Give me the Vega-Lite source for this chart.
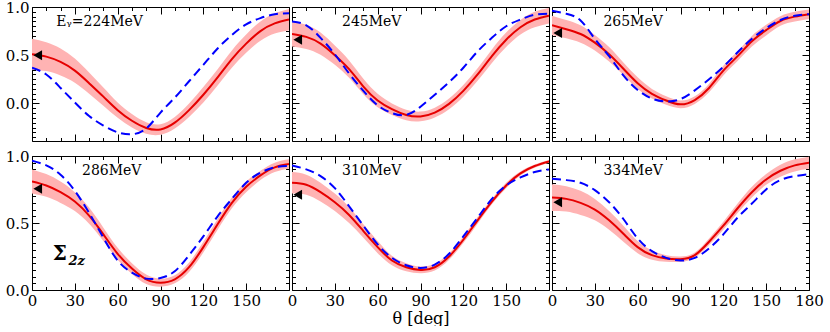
{
"$schema":"https://vega.github.io/schema/vega-lite/v6.json",
"padding":{"left":5,"top":0,"right":5,"bottom":0},
"background":"white",
"datasets":{
"curves":[
{"p":"224","t":0,"r":0.51,"lo":0.35,"hi":0.67,"b":0.37},
{"p":"224","t":10,"r":0.485,"lo":0.335,"hi":0.635,"b":0.30},
{"p":"224","t":20,"r":0.43,"lo":0.29,"hi":0.57,"b":0.16},
{"p":"224","t":30,"r":0.34,"lo":0.215,"hi":0.465,"b":0.01},
{"p":"224","t":40,"r":0.21,"lo":0.10,"hi":0.32,"b":-0.13},
{"p":"224","t":50,"r":0.07,"lo":-0.025,"hi":0.165,"b":-0.23},
{"p":"224","t":60,"r":-0.07,"lo":-0.15,"hi":0.01,"b":-0.30},
{"p":"224","t":70,"r":-0.18,"lo":-0.25,"hi":-0.11,"b":-0.32},
{"p":"224","t":80,"r":-0.255,"lo":-0.315,"hi":-0.195,"b":-0.26},
{"p":"224","t":90,"r":-0.27,"lo":-0.325,"hi":-0.215,"b":-0.095},
{"p":"224","t":100,"r":-0.20,"lo":-0.26,"hi":-0.14,"b":0.06},
{"p":"224","t":110,"r":-0.07,"lo":-0.14,"hi":0.0,"b":0.23},
{"p":"224","t":120,"r":0.09,"lo":0.01,"hi":0.17,"b":0.40},
{"p":"224","t":130,"r":0.27,"lo":0.185,"hi":0.355,"b":0.57},
{"p":"224","t":140,"r":0.46,"lo":0.37,"hi":0.55,"b":0.71},
{"p":"224","t":150,"r":0.62,"lo":0.525,"hi":0.715,"b":0.82},
{"p":"224","t":160,"r":0.75,"lo":0.65,"hi":0.85,"b":0.885},
{"p":"224","t":170,"r":0.83,"lo":0.725,"hi":0.935,"b":0.925},
{"p":"224","t":180,"r":0.87,"lo":0.76,"hi":0.98,"b":0.935},
{"p":"245","t":0,"r":0.72,"lo":0.59,"hi":0.85,"b":0.85},
{"p":"245","t":10,"r":0.69,"lo":0.565,"hi":0.815,"b":0.81},
{"p":"245","t":20,"r":0.62,"lo":0.505,"hi":0.735,"b":0.68},
{"p":"245","t":30,"r":0.50,"lo":0.40,"hi":0.60,"b":0.51},
{"p":"245","t":40,"r":0.355,"lo":0.265,"hi":0.445,"b":0.31},
{"p":"245","t":50,"r":0.175,"lo":0.095,"hi":0.255,"b":0.13},
{"p":"245","t":60,"r":0.03,"lo":-0.04,"hi":0.10,"b":-0.02},
{"p":"245","t":70,"r":-0.06,"lo":-0.12,"hi":0.0,"b":-0.10},
{"p":"245","t":80,"r":-0.12,"lo":-0.175,"hi":-0.065,"b":-0.12},
{"p":"245","t":90,"r":-0.135,"lo":-0.185,"hi":-0.085,"b":-0.035},
{"p":"245","t":100,"r":-0.095,"lo":-0.145,"hi":-0.045,"b":0.09},
{"p":"245","t":110,"r":-0.005,"lo":-0.06,"hi":0.05,"b":0.22},
{"p":"245","t":120,"r":0.13,"lo":0.07,"hi":0.19,"b":0.37},
{"p":"245","t":130,"r":0.30,"lo":0.235,"hi":0.365,"b":0.54},
{"p":"245","t":140,"r":0.49,"lo":0.42,"hi":0.56,"b":0.68},
{"p":"245","t":150,"r":0.66,"lo":0.585,"hi":0.735,"b":0.80},
{"p":"245","t":160,"r":0.79,"lo":0.715,"hi":0.865,"b":0.87},
{"p":"245","t":170,"r":0.87,"lo":0.79,"hi":0.95,"b":0.92},
{"p":"245","t":180,"r":0.91,"lo":0.83,"hi":0.99,"b":0.93},
{"p":"265","t":0,"r":0.81,"lo":0.71,"hi":0.91,"b":0.96},
{"p":"265","t":10,"r":0.77,"lo":0.675,"hi":0.865,"b":0.93},
{"p":"265","t":20,"r":0.72,"lo":0.63,"hi":0.81,"b":0.86},
{"p":"265","t":30,"r":0.63,"lo":0.55,"hi":0.71,"b":0.67},
{"p":"265","t":40,"r":0.51,"lo":0.435,"hi":0.585,"b":0.49},
{"p":"265","t":50,"r":0.36,"lo":0.295,"hi":0.425,"b":0.29},
{"p":"265","t":60,"r":0.21,"lo":0.15,"hi":0.27,"b":0.14},
{"p":"265","t":70,"r":0.10,"lo":0.05,"hi":0.15,"b":0.05},
{"p":"265","t":80,"r":0.03,"lo":-0.015,"hi":0.075,"b":0.02},
{"p":"265","t":90,"r":-0.01,"lo":-0.05,"hi":0.03,"b":0.045},
{"p":"265","t":100,"r":0.035,"lo":-0.005,"hi":0.075,"b":0.135},
{"p":"265","t":110,"r":0.16,"lo":0.115,"hi":0.205,"b":0.25},
{"p":"265","t":120,"r":0.34,"lo":0.29,"hi":0.39,"b":0.38},
{"p":"265","t":130,"r":0.49,"lo":0.44,"hi":0.54,"b":0.53},
{"p":"265","t":140,"r":0.645,"lo":0.59,"hi":0.70,"b":0.67},
{"p":"265","t":150,"r":0.76,"lo":0.705,"hi":0.815,"b":0.78},
{"p":"265","t":160,"r":0.855,"lo":0.805,"hi":0.905,"b":0.865},
{"p":"265","t":170,"r":0.90,"lo":0.85,"hi":0.95,"b":0.91},
{"p":"265","t":180,"r":0.925,"lo":0.875,"hi":0.975,"b":0.925},
{"p":"286","t":0,"r":0.81,"lo":0.72,"hi":0.90,"b":0.965},
{"p":"286","t":10,"r":0.78,"lo":0.695,"hi":0.865,"b":0.93},
{"p":"286","t":20,"r":0.73,"lo":0.65,"hi":0.81,"b":0.86},
{"p":"286","t":30,"r":0.66,"lo":0.59,"hi":0.73,"b":0.74},
{"p":"286","t":40,"r":0.555,"lo":0.495,"hi":0.615,"b":0.575},
{"p":"286","t":50,"r":0.415,"lo":0.365,"hi":0.465,"b":0.39},
{"p":"286","t":60,"r":0.27,"lo":0.225,"hi":0.315,"b":0.22},
{"p":"286","t":70,"r":0.16,"lo":0.12,"hi":0.20,"b":0.13},
{"p":"286","t":80,"r":0.08,"lo":0.045,"hi":0.115,"b":0.085},
{"p":"286","t":90,"r":0.055,"lo":0.025,"hi":0.085,"b":0.09},
{"p":"286","t":100,"r":0.08,"lo":0.05,"hi":0.11,"b":0.14},
{"p":"286","t":110,"r":0.17,"lo":0.135,"hi":0.205,"b":0.26},
{"p":"286","t":120,"r":0.32,"lo":0.28,"hi":0.36,"b":0.40},
{"p":"286","t":130,"r":0.49,"lo":0.45,"hi":0.53,"b":0.55},
{"p":"286","t":140,"r":0.65,"lo":0.61,"hi":0.69,"b":0.68},
{"p":"286","t":150,"r":0.77,"lo":0.73,"hi":0.81,"b":0.80},
{"p":"286","t":160,"r":0.855,"lo":0.82,"hi":0.89,"b":0.875},
{"p":"286","t":170,"r":0.915,"lo":0.88,"hi":0.95,"b":0.915},
{"p":"286","t":180,"r":0.94,"lo":0.905,"hi":0.975,"b":0.925},
{"p":"310","t":0,"r":0.80,"lo":0.72,"hi":0.88,"b":0.93},
{"p":"310","t":10,"r":0.785,"lo":0.71,"hi":0.86,"b":0.90},
{"p":"310","t":20,"r":0.73,"lo":0.66,"hi":0.80,"b":0.85},
{"p":"310","t":30,"r":0.655,"lo":0.59,"hi":0.72,"b":0.76},
{"p":"310","t":40,"r":0.56,"lo":0.50,"hi":0.62,"b":0.625},
{"p":"310","t":50,"r":0.44,"lo":0.39,"hi":0.49,"b":0.48},
{"p":"310","t":60,"r":0.32,"lo":0.275,"hi":0.365,"b":0.34},
{"p":"310","t":70,"r":0.22,"lo":0.185,"hi":0.255,"b":0.24},
{"p":"310","t":80,"r":0.17,"lo":0.14,"hi":0.20,"b":0.185},
{"p":"310","t":90,"r":0.15,"lo":0.125,"hi":0.175,"b":0.165},
{"p":"310","t":100,"r":0.17,"lo":0.145,"hi":0.195,"b":0.19},
{"p":"310","t":110,"r":0.25,"lo":0.225,"hi":0.275,"b":0.27},
{"p":"310","t":120,"r":0.375,"lo":0.35,"hi":0.40,"b":0.40},
{"p":"310","t":130,"r":0.52,"lo":0.495,"hi":0.545,"b":0.54},
{"p":"310","t":140,"r":0.66,"lo":0.64,"hi":0.68,"b":0.68},
{"p":"310","t":150,"r":0.78,"lo":0.76,"hi":0.80,"b":0.78},
{"p":"310","t":160,"r":0.87,"lo":0.855,"hi":0.885,"b":0.84},
{"p":"310","t":170,"r":0.925,"lo":0.913,"hi":0.937,"b":0.88},
{"p":"310","t":180,"r":0.96,"lo":0.95,"hi":0.97,"b":0.90},
{"p":"334","t":0,"r":0.69,"lo":0.59,"hi":0.79,"b":0.83},
{"p":"334","t":10,"r":0.68,"lo":0.585,"hi":0.775,"b":0.82},
{"p":"334","t":20,"r":0.65,"lo":0.56,"hi":0.74,"b":0.80},
{"p":"334","t":30,"r":0.60,"lo":0.52,"hi":0.68,"b":0.745},
{"p":"334","t":40,"r":0.52,"lo":0.45,"hi":0.59,"b":0.655},
{"p":"334","t":50,"r":0.42,"lo":0.36,"hi":0.48,"b":0.53},
{"p":"334","t":60,"r":0.32,"lo":0.275,"hi":0.365,"b":0.385},
{"p":"334","t":70,"r":0.26,"lo":0.225,"hi":0.295,"b":0.29},
{"p":"334","t":80,"r":0.235,"lo":0.21,"hi":0.26,"b":0.24},
{"p":"334","t":90,"r":0.23,"lo":0.21,"hi":0.25,"b":0.22},
{"p":"334","t":100,"r":0.26,"lo":0.24,"hi":0.28,"b":0.24},
{"p":"334","t":110,"r":0.36,"lo":0.335,"hi":0.385,"b":0.31},
{"p":"334","t":120,"r":0.48,"lo":0.45,"hi":0.51,"b":0.415},
{"p":"334","t":130,"r":0.61,"lo":0.575,"hi":0.645,"b":0.54},
{"p":"334","t":140,"r":0.73,"lo":0.69,"hi":0.77,"b":0.645},
{"p":"334","t":150,"r":0.825,"lo":0.785,"hi":0.865,"b":0.75},
{"p":"334","t":160,"r":0.89,"lo":0.845,"hi":0.935,"b":0.82},
{"p":"334","t":170,"r":0.93,"lo":0.885,"hi":0.975,"b":0.85},
{"p":"334","t":180,"r":0.95,"lo":0.905,"hi":0.995,"b":0.865}
],
"tri":[
{"p":"224","t":4,"v":0.50},{"p":"245","t":4,"v":0.66},{"p":"265","t":4,"v":0.73},
{"p":"286","t":4,"v":0.755},{"p":"310","t":4,"v":0.71},{"p":"334","t":4,"v":0.655}
],
"lab":[
{"p":"224","t":17,"v":0.84,"s":"Eᵧ=224MeV"},{"p":"245","t":35,"v":0.84,"s":"245MeV"},{"p":"265","t":36,"v":0.84,"s":"265MeV"},
{"p":"286","t":35,"v":0.885,"s":"286MeV"},{"p":"310","t":35,"v":0.885,"s":"310MeV"},{"p":"334","t":36,"v":0.885,"s":"334MeV"}
]
},
"columns":3,
"spacing":{"row":15,"column":3},
"bounds":"flush",
"concat":[
{"width":257,"height":134,
"layer":[
{"data":{"name":"curves"},"transform":[{"filter":"datum.p=='224'"}],"mark":{"type":"area","color":"#ffb3b3","interpolate":"natural","clip":true},
"encoding":{"x":{"field":"t","type":"quantitative","scale":{"domain":[0,180],"nice":false},"axis":{"orient":"bottom","values":[0,30,60,90,120,150,180],"labels":false,"tickSize":-7,"title":null}},
"y":{"field":"lo","type":"quantitative","scale":{"domain":[-0.39,1],"nice":false,"zero":false},"axis":{"orient":"left","values":[0,0.5,1],"format":".1f","tickSize":-7,"labelPadding":10,"title":null}},
"y2":{"field":"hi"}}},
{"data":{"name":"curves"},"transform":[{"filter":"datum.p=='224'"}],"mark":{"type":"line","color":"#e60000","strokeWidth":2,"interpolate":"natural","clip":true},
"encoding":{"x":{"field":"t","type":"quantitative","scale":{"domain":[0,180],"nice":false},"axis":{"orient":"top","values":[0,30,60,90,120,150,180],"labels":false,"tickSize":-7,"title":null}},
"y":{"field":"r","type":"quantitative","scale":{"domain":[-0.39,1],"nice":false,"zero":false},"axis":{"orient":"right","values":[0,0.5,1],"labels":false,"tickSize":-7,"title":null}}}},
{"data":{"name":"curves"},"transform":[{"filter":"datum.p=='224'"}],"mark":{"type":"line","color":"#0000ff","strokeWidth":2,"strokeDash":[9,5],"interpolate":"natural","clip":true},
"encoding":{"x":{"field":"t","type":"quantitative","scale":{"domain":[0,180],"nice":false},"axis":{"orient":"bottom","values":[10,20,40,50,70,80,100,110,130,140,160,170],"labels":false,"domain":false,"tickSize":-3.5,"title":null}},
"y":{"field":"b","type":"quantitative","scale":{"domain":[-0.39,1],"nice":false,"zero":false},"axis":{"orient":"left","values":[-0.35,-0.3,-0.25,-0.2,-0.15,-0.1,-0.05,0.05,0.1,0.15,0.2,0.25,0.3,0.35,0.4,0.45,0.55,0.6,0.65,0.7,0.75,0.8,0.85,0.9,0.95],"labels":false,"domain":false,"tickSize":-3.5,"title":null}}}},
{"data":{"name":"tri"},"transform":[{"filter":"datum.p=='224'"}],"mark":{"type":"point","shape":"triangle-left","filled":true,"color":"black","size":100,"opacity":1},
"encoding":{"x":{"field":"t","type":"quantitative","scale":{"domain":[0,180],"nice":false},"axis":{"orient":"top","values":[10,20,40,50,70,80,100,110,130,140,160,170],"labels":false,"domain":false,"tickSize":-3.5,"title":null}},
"y":{"field":"v","type":"quantitative","scale":{"domain":[-0.39,1],"nice":false,"zero":false},"axis":{"orient":"right","values":[-0.35,-0.3,-0.25,-0.2,-0.15,-0.1,-0.05,0.05,0.1,0.15,0.2,0.25,0.3,0.35,0.4,0.45,0.55,0.6,0.65,0.7,0.75,0.8,0.85,0.9,0.95],"labels":false,"domain":false,"tickSize":-3.5,"title":null}}}},
{"data":{"name":"lab"},"transform":[{"filter":"datum.p=='224'"}],"mark":{"type":"text","align":"left","baseline":"middle","font":"DejaVu Serif","fontSize":14,"color":"black"},
"encoding":{"x":{"field":"t","type":"quantitative","axis":null},"y":{"field":"v","type":"quantitative","axis":null},"text":{"field":"s"}}}
],
"resolve":{"axis":{"x":"independent","y":"independent"}}},
{"width":257,"height":134,
"layer":[
{"data":{"name":"curves"},"transform":[{"filter":"datum.p=='245'"}],"mark":{"type":"area","color":"#ffb3b3","interpolate":"natural","clip":true},
"encoding":{"x":{"field":"t","type":"quantitative","scale":{"domain":[0,180],"nice":false},"axis":{"orient":"bottom","values":[0,30,60,90,120,150,180],"labels":false,"tickSize":-7,"title":null}},
"y":{"field":"lo","type":"quantitative","scale":{"domain":[-0.39,1],"nice":false,"zero":false},"axis":{"orient":"left","values":[0,0.5,1],"labels":false,"tickSize":-7,"title":null}},
"y2":{"field":"hi"}}},
{"data":{"name":"curves"},"transform":[{"filter":"datum.p=='245'"}],"mark":{"type":"line","color":"#e60000","strokeWidth":2,"interpolate":"natural","clip":true},
"encoding":{"x":{"field":"t","type":"quantitative","scale":{"domain":[0,180],"nice":false},"axis":{"orient":"top","values":[0,30,60,90,120,150,180],"labels":false,"tickSize":-7,"title":null}},
"y":{"field":"r","type":"quantitative","scale":{"domain":[-0.39,1],"nice":false,"zero":false},"axis":{"orient":"right","values":[0,0.5,1],"labels":false,"tickSize":-7,"title":null}}}},
{"data":{"name":"curves"},"transform":[{"filter":"datum.p=='245'"}],"mark":{"type":"line","color":"#0000ff","strokeWidth":2,"strokeDash":[9,5],"interpolate":"natural","clip":true},
"encoding":{"x":{"field":"t","type":"quantitative","scale":{"domain":[0,180],"nice":false},"axis":{"orient":"bottom","values":[10,20,40,50,70,80,100,110,130,140,160,170],"labels":false,"domain":false,"tickSize":-3.5,"title":null}},
"y":{"field":"b","type":"quantitative","scale":{"domain":[-0.39,1],"nice":false,"zero":false},"axis":{"orient":"left","values":[-0.35,-0.3,-0.25,-0.2,-0.15,-0.1,-0.05,0.05,0.1,0.15,0.2,0.25,0.3,0.35,0.4,0.45,0.55,0.6,0.65,0.7,0.75,0.8,0.85,0.9,0.95],"labels":false,"domain":false,"tickSize":-3.5,"title":null}}}},
{"data":{"name":"tri"},"transform":[{"filter":"datum.p=='245'"}],"mark":{"type":"point","shape":"triangle-left","filled":true,"color":"black","size":100,"opacity":1},
"encoding":{"x":{"field":"t","type":"quantitative","scale":{"domain":[0,180],"nice":false},"axis":{"orient":"top","values":[10,20,40,50,70,80,100,110,130,140,160,170],"labels":false,"domain":false,"tickSize":-3.5,"title":null}},
"y":{"field":"v","type":"quantitative","scale":{"domain":[-0.39,1],"nice":false,"zero":false},"axis":{"orient":"right","values":[-0.35,-0.3,-0.25,-0.2,-0.15,-0.1,-0.05,0.05,0.1,0.15,0.2,0.25,0.3,0.35,0.4,0.45,0.55,0.6,0.65,0.7,0.75,0.8,0.85,0.9,0.95],"labels":false,"domain":false,"tickSize":-3.5,"title":null}}}},
{"data":{"name":"lab"},"transform":[{"filter":"datum.p=='245'"}],"mark":{"type":"text","align":"left","baseline":"middle","font":"DejaVu Serif","fontSize":14,"color":"black"},
"encoding":{"x":{"field":"t","type":"quantitative","axis":null},"y":{"field":"v","type":"quantitative","axis":null},"text":{"field":"s"}}}
],
"resolve":{"axis":{"x":"independent","y":"independent"}}},
{"width":257,"height":134,
"layer":[
{"data":{"name":"curves"},"transform":[{"filter":"datum.p=='265'"}],"mark":{"type":"area","color":"#ffb3b3","interpolate":"natural","clip":true},
"encoding":{"x":{"field":"t","type":"quantitative","scale":{"domain":[0,180],"nice":false},"axis":{"orient":"bottom","values":[0,30,60,90,120,150,180],"labels":false,"tickSize":-7,"title":null}},
"y":{"field":"lo","type":"quantitative","scale":{"domain":[-0.39,1],"nice":false,"zero":false},"axis":{"orient":"left","values":[0,0.5,1],"labels":false,"tickSize":-7,"title":null}},
"y2":{"field":"hi"}}},
{"data":{"name":"curves"},"transform":[{"filter":"datum.p=='265'"}],"mark":{"type":"line","color":"#e60000","strokeWidth":2,"interpolate":"natural","clip":true},
"encoding":{"x":{"field":"t","type":"quantitative","scale":{"domain":[0,180],"nice":false},"axis":{"orient":"top","values":[0,30,60,90,120,150,180],"labels":false,"tickSize":-7,"title":null}},
"y":{"field":"r","type":"quantitative","scale":{"domain":[-0.39,1],"nice":false,"zero":false},"axis":{"orient":"right","values":[0,0.5,1],"labels":false,"tickSize":-7,"title":null}}}},
{"data":{"name":"curves"},"transform":[{"filter":"datum.p=='265'"}],"mark":{"type":"line","color":"#0000ff","strokeWidth":2,"strokeDash":[9,5],"interpolate":"natural","clip":true},
"encoding":{"x":{"field":"t","type":"quantitative","scale":{"domain":[0,180],"nice":false},"axis":{"orient":"bottom","values":[10,20,40,50,70,80,100,110,130,140,160,170],"labels":false,"domain":false,"tickSize":-3.5,"title":null}},
"y":{"field":"b","type":"quantitative","scale":{"domain":[-0.39,1],"nice":false,"zero":false},"axis":{"orient":"left","values":[-0.35,-0.3,-0.25,-0.2,-0.15,-0.1,-0.05,0.05,0.1,0.15,0.2,0.25,0.3,0.35,0.4,0.45,0.55,0.6,0.65,0.7,0.75,0.8,0.85,0.9,0.95],"labels":false,"domain":false,"tickSize":-3.5,"title":null}}}},
{"data":{"name":"tri"},"transform":[{"filter":"datum.p=='265'"}],"mark":{"type":"point","shape":"triangle-left","filled":true,"color":"black","size":100,"opacity":1},
"encoding":{"x":{"field":"t","type":"quantitative","scale":{"domain":[0,180],"nice":false},"axis":{"orient":"top","values":[10,20,40,50,70,80,100,110,130,140,160,170],"labels":false,"domain":false,"tickSize":-3.5,"title":null}},
"y":{"field":"v","type":"quantitative","scale":{"domain":[-0.39,1],"nice":false,"zero":false},"axis":{"orient":"right","values":[-0.35,-0.3,-0.25,-0.2,-0.15,-0.1,-0.05,0.05,0.1,0.15,0.2,0.25,0.3,0.35,0.4,0.45,0.55,0.6,0.65,0.7,0.75,0.8,0.85,0.9,0.95],"labels":false,"domain":false,"tickSize":-3.5,"title":null}}}},
{"data":{"name":"lab"},"transform":[{"filter":"datum.p=='265'"}],"mark":{"type":"text","align":"left","baseline":"middle","font":"DejaVu Serif","fontSize":14,"color":"black"},
"encoding":{"x":{"field":"t","type":"quantitative","axis":null},"y":{"field":"v","type":"quantitative","axis":null},"text":{"field":"s"}}}
],
"resolve":{"axis":{"x":"independent","y":"independent"}}},
{"width":257,"height":134,
"layer":[
{"data":{"name":"curves"},"transform":[{"filter":"datum.p=='286'"}],"mark":{"type":"area","color":"#ffb3b3","interpolate":"natural","clip":true},
"encoding":{"x":{"field":"t","type":"quantitative","scale":{"domain":[0,180],"nice":false},"axis":{"orient":"bottom","values":[0,30,60,90,120,150,180],"labelExpr":"datum.value==180?'':datum.label","labelFlush":false,"tickSize":-7,"labelPadding":10,"title":null}},
"y":{"field":"lo","type":"quantitative","scale":{"domain":[0,1],"nice":false,"zero":false},"axis":{"orient":"left","values":[0,0.5,1],"format":".1f","tickSize":-7,"labelPadding":10,"title":null}},
"y2":{"field":"hi"}}},
{"data":{"name":"curves"},"transform":[{"filter":"datum.p=='286'"}],"mark":{"type":"line","color":"#e60000","strokeWidth":2,"interpolate":"natural","clip":true},
"encoding":{"x":{"field":"t","type":"quantitative","scale":{"domain":[0,180],"nice":false},"axis":{"orient":"top","values":[0,30,60,90,120,150,180],"labels":false,"tickSize":-7,"title":null}},
"y":{"field":"r","type":"quantitative","scale":{"domain":[0,1],"nice":false,"zero":false},"axis":{"orient":"right","values":[0,0.5,1],"labels":false,"tickSize":-7,"title":null}}}},
{"data":{"name":"curves"},"transform":[{"filter":"datum.p=='286'"}],"mark":{"type":"line","color":"#0000ff","strokeWidth":2,"strokeDash":[9,5],"interpolate":"natural","clip":true},
"encoding":{"x":{"field":"t","type":"quantitative","scale":{"domain":[0,180],"nice":false},"axis":{"orient":"bottom","values":[10,20,40,50,70,80,100,110,130,140,160,170],"labels":false,"domain":false,"tickSize":-3.5,"title":null}},
"y":{"field":"b","type":"quantitative","scale":{"domain":[0,1],"nice":false,"zero":false},"axis":{"orient":"left","values":[0.05,0.1,0.15,0.2,0.25,0.3,0.35,0.4,0.45,0.55,0.6,0.65,0.7,0.75,0.8,0.85,0.9,0.95],"labels":false,"domain":false,"tickSize":-3.5,"title":null}}}},
{"data":{"name":"tri"},"transform":[{"filter":"datum.p=='286'"}],"mark":{"type":"point","shape":"triangle-left","filled":true,"color":"black","size":100,"opacity":1},
"encoding":{"x":{"field":"t","type":"quantitative","scale":{"domain":[0,180],"nice":false},"axis":{"orient":"top","values":[10,20,40,50,70,80,100,110,130,140,160,170],"labels":false,"domain":false,"tickSize":-3.5,"title":null}},
"y":{"field":"v","type":"quantitative","scale":{"domain":[0,1],"nice":false,"zero":false},"axis":{"orient":"right","values":[0.05,0.1,0.15,0.2,0.25,0.3,0.35,0.4,0.45,0.55,0.6,0.65,0.7,0.75,0.8,0.85,0.9,0.95],"labels":false,"domain":false,"tickSize":-3.5,"title":null}}}},
{"data":{"name":"lab"},"transform":[{"filter":"datum.p=='286'"}],"mark":{"type":"text","align":"left","baseline":"middle","font":"DejaVu Serif","fontSize":14,"color":"black"},
"encoding":{"x":{"field":"t","type":"quantitative","axis":null},"y":{"field":"v","type":"quantitative","axis":null},"text":{"field":"s"}}},
{"data":{"values":[{"t":14.5,"v":0.265,"s":"Σ"}]},"mark":{"type":"text","align":"left","baseline":"middle","font":"DejaVu Serif","fontSize":20,"fontWeight":"bold","color":"black"},
"encoding":{"x":{"field":"t","type":"quantitative","axis":null},"y":{"field":"v","type":"quantitative","axis":null},"text":{"field":"s"}}},
{"data":{"values":[{"t":25.5,"v":0.215,"s":"2z"}]},"mark":{"type":"text","align":"left","baseline":"middle","font":"DejaVu Serif","fontSize":13,"fontWeight":"bold","fontStyle":"italic","color":"black"},
"encoding":{"x":{"field":"t","type":"quantitative","axis":null},"y":{"field":"v","type":"quantitative","axis":null},"text":{"field":"s"}}}
],
"resolve":{"axis":{"x":"independent","y":"independent"}}},
{"width":257,"height":134,
"layer":[
{"data":{"name":"curves"},"transform":[{"filter":"datum.p=='310'"}],"mark":{"type":"area","color":"#ffb3b3","interpolate":"natural","clip":true},
"encoding":{"x":{"field":"t","type":"quantitative","scale":{"domain":[0,180],"nice":false},"axis":{"orient":"bottom","values":[0,30,60,90,120,150,180],"labelExpr":"datum.value==180?'':datum.label","labelFlush":false,"tickSize":-7,"labelPadding":10,"title":"θ [deg]","titlePadding":2,"titleFontSize":16}},
"y":{"field":"lo","type":"quantitative","scale":{"domain":[0,1],"nice":false,"zero":false},"axis":{"orient":"left","values":[0,0.5,1],"labels":false,"tickSize":-7,"title":null}},
"y2":{"field":"hi"}}},
{"data":{"name":"curves"},"transform":[{"filter":"datum.p=='310'"}],"mark":{"type":"line","color":"#e60000","strokeWidth":2,"interpolate":"natural","clip":true},
"encoding":{"x":{"field":"t","type":"quantitative","scale":{"domain":[0,180],"nice":false},"axis":{"orient":"top","values":[0,30,60,90,120,150,180],"labels":false,"tickSize":-7,"title":null}},
"y":{"field":"r","type":"quantitative","scale":{"domain":[0,1],"nice":false,"zero":false},"axis":{"orient":"right","values":[0,0.5,1],"labels":false,"tickSize":-7,"title":null}}}},
{"data":{"name":"curves"},"transform":[{"filter":"datum.p=='310'"}],"mark":{"type":"line","color":"#0000ff","strokeWidth":2,"strokeDash":[9,5],"interpolate":"natural","clip":true},
"encoding":{"x":{"field":"t","type":"quantitative","scale":{"domain":[0,180],"nice":false},"axis":{"orient":"bottom","values":[10,20,40,50,70,80,100,110,130,140,160,170],"labels":false,"domain":false,"tickSize":-3.5,"title":null}},
"y":{"field":"b","type":"quantitative","scale":{"domain":[0,1],"nice":false,"zero":false},"axis":{"orient":"left","values":[0.05,0.1,0.15,0.2,0.25,0.3,0.35,0.4,0.45,0.55,0.6,0.65,0.7,0.75,0.8,0.85,0.9,0.95],"labels":false,"domain":false,"tickSize":-3.5,"title":null}}}},
{"data":{"name":"tri"},"transform":[{"filter":"datum.p=='310'"}],"mark":{"type":"point","shape":"triangle-left","filled":true,"color":"black","size":100,"opacity":1},
"encoding":{"x":{"field":"t","type":"quantitative","scale":{"domain":[0,180],"nice":false},"axis":{"orient":"top","values":[10,20,40,50,70,80,100,110,130,140,160,170],"labels":false,"domain":false,"tickSize":-3.5,"title":null}},
"y":{"field":"v","type":"quantitative","scale":{"domain":[0,1],"nice":false,"zero":false},"axis":{"orient":"right","values":[0.05,0.1,0.15,0.2,0.25,0.3,0.35,0.4,0.45,0.55,0.6,0.65,0.7,0.75,0.8,0.85,0.9,0.95],"labels":false,"domain":false,"tickSize":-3.5,"title":null}}}},
{"data":{"name":"lab"},"transform":[{"filter":"datum.p=='310'"}],"mark":{"type":"text","align":"left","baseline":"middle","font":"DejaVu Serif","fontSize":14,"color":"black"},
"encoding":{"x":{"field":"t","type":"quantitative","axis":null},"y":{"field":"v","type":"quantitative","axis":null},"text":{"field":"s"}}}
],
"resolve":{"axis":{"x":"independent","y":"independent"}}},
{"width":257,"height":134,
"layer":[
{"data":{"name":"curves"},"transform":[{"filter":"datum.p=='334'"}],"mark":{"type":"area","color":"#ffb3b3","interpolate":"natural","clip":true},
"encoding":{"x":{"field":"t","type":"quantitative","scale":{"domain":[0,180],"nice":false},"axis":{"orient":"bottom","values":[0,30,60,90,120,150,180],"labelFlush":false,"tickSize":-7,"labelPadding":10,"title":null}},
"y":{"field":"lo","type":"quantitative","scale":{"domain":[0,1],"nice":false,"zero":false},"axis":{"orient":"left","values":[0,0.5,1],"labels":false,"tickSize":-7,"title":null}},
"y2":{"field":"hi"}}},
{"data":{"name":"curves"},"transform":[{"filter":"datum.p=='334'"}],"mark":{"type":"line","color":"#e60000","strokeWidth":2,"interpolate":"natural","clip":true},
"encoding":{"x":{"field":"t","type":"quantitative","scale":{"domain":[0,180],"nice":false},"axis":{"orient":"top","values":[0,30,60,90,120,150,180],"labels":false,"tickSize":-7,"title":null}},
"y":{"field":"r","type":"quantitative","scale":{"domain":[0,1],"nice":false,"zero":false},"axis":{"orient":"right","values":[0,0.5,1],"labels":false,"tickSize":-7,"title":null}}}},
{"data":{"name":"curves"},"transform":[{"filter":"datum.p=='334'"}],"mark":{"type":"line","color":"#0000ff","strokeWidth":2,"strokeDash":[9,5],"interpolate":"natural","clip":true},
"encoding":{"x":{"field":"t","type":"quantitative","scale":{"domain":[0,180],"nice":false},"axis":{"orient":"bottom","values":[10,20,40,50,70,80,100,110,130,140,160,170],"labels":false,"domain":false,"tickSize":-3.5,"title":null}},
"y":{"field":"b","type":"quantitative","scale":{"domain":[0,1],"nice":false,"zero":false},"axis":{"orient":"left","values":[0.05,0.1,0.15,0.2,0.25,0.3,0.35,0.4,0.45,0.55,0.6,0.65,0.7,0.75,0.8,0.85,0.9,0.95],"labels":false,"domain":false,"tickSize":-3.5,"title":null}}}},
{"data":{"name":"tri"},"transform":[{"filter":"datum.p=='334'"}],"mark":{"type":"point","shape":"triangle-left","filled":true,"color":"black","size":100,"opacity":1},
"encoding":{"x":{"field":"t","type":"quantitative","scale":{"domain":[0,180],"nice":false},"axis":{"orient":"top","values":[10,20,40,50,70,80,100,110,130,140,160,170],"labels":false,"domain":false,"tickSize":-3.5,"title":null}},
"y":{"field":"v","type":"quantitative","scale":{"domain":[0,1],"nice":false,"zero":false},"axis":{"orient":"right","values":[0.05,0.1,0.15,0.2,0.25,0.3,0.35,0.4,0.45,0.55,0.6,0.65,0.7,0.75,0.8,0.85,0.9,0.95],"labels":false,"domain":false,"tickSize":-3.5,"title":null}}}},
{"data":{"name":"lab"},"transform":[{"filter":"datum.p=='334'"}],"mark":{"type":"text","align":"left","baseline":"middle","font":"DejaVu Serif","fontSize":14,"color":"black"},
"encoding":{"x":{"field":"t","type":"quantitative","axis":null},"y":{"field":"v","type":"quantitative","axis":null},"text":{"field":"s"}}}
],
"resolve":{"axis":{"x":"independent","y":"independent"}}}
],
"config":{"view":{"stroke":null},
"axis":{"grid":false,"domainColor":"black","tickColor":"black","labelColor":"black","labelFont":"DejaVu Serif","labelFontSize":15,"titleFont":"DejaVu Serif","titleFontSize":17,"titleFontWeight":"normal","titleColor":"black","domainWidth":1,"tickWidth":1,"zindex":1,"labelOverlap":false}}
}
